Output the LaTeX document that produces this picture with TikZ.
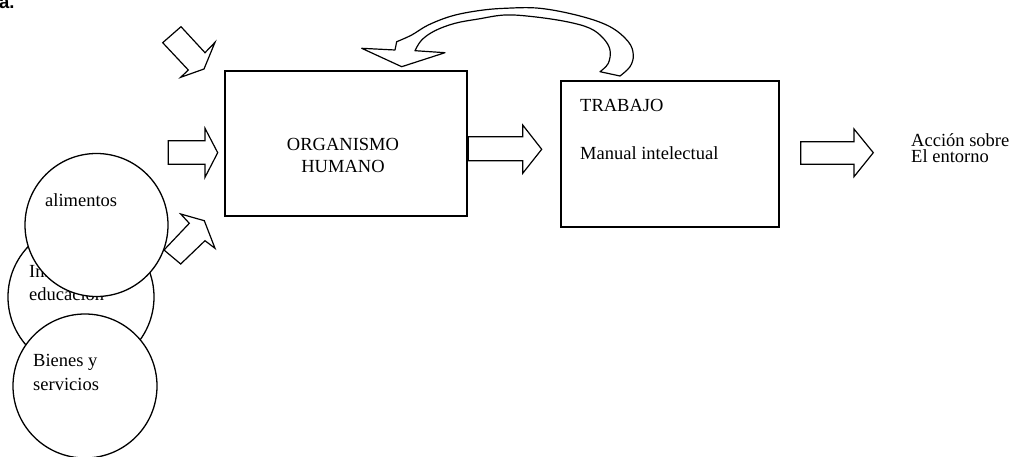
\documentclass[tikz,border=0pt]{standalone}
\usepackage{fontspec}
\setmainfont{Liberation Serif}
\newfontfamily\labelsans{Liberation Sans}
\begin{document}
\begin{tikzpicture}[x=1pt,y=-1pt,
  box/.style={draw, line width=1.6pt, fill=white, inner sep=0pt, outer sep=0pt},
  blob/.style={draw, circle, line width=1.3pt, fill=white, inner sep=0pt, outer sep=0pt},
  blockarrow/.style={draw, line width=1.2pt, fill=white, line join=miter},
  txt/.style={anchor=base west, inner sep=0pt, font=\fontsize{18.5}{22}\selectfont},
  ctxt/.style={txt, anchor=base},
]
\useasboundingbox (0,0) rectangle (1016,457);
\clip (0,0) rectangle (1016,457);

% heading fragment
\node[anchor=base west, inner sep=0pt, font=\labelsans\bfseries\fontsize{18.5}{22}\selectfont] (head) at (-1,8.3) {a.};

% main boxes
\node[box, minimum width=242pt, minimum height=145pt] (org) at (346,143.5) {};
\node[box, minimum width=218pt, minimum height=146pt] (trab) at (670,154) {};

% box texts
\node[ctxt] (orgA) at (343,150) {ORGANISMO};
\node[ctxt] (orgB) at (343,172.7) {HUMANO};
\node[txt] (trabA) at (580,111.7) {TRABAJO};
\node[txt] (trabB) at (580,159.3) {Manual intelectual};
\node[txt] (accA) at (911,146.5) {Acción sobre};
\node[txt] (accB) at (911,163) {El entorno};

% input arrows
\draw[blockarrow] (162.7,42.7) -- (181,26.7) -- (205,52.7) -- (215,42.3) -- (204,69)
  -- (180.7,77.3) -- (188.3,70) -- cycle;
\draw[blockarrow] (168.3,140.7) -- (205,140.7) -- (205,128.3) -- (217.7,152.7)
  -- (205,177.3) -- (205,164.3) -- (168.3,164.3) -- cycle;
\draw[blockarrow] (164,250) -- (189.3,223.3) -- (180.7,214) -- (204.3,220.7)
  -- (215,248.3) -- (205,240.7) -- (180.7,264) -- cycle;

% organismo -> trabajo
\draw[blockarrow] (468.3,136.7) -- (522.7,136.7) -- (522.7,125) -- (541.7,149.3)
  -- (522.7,173.3) -- (522.7,160.7) -- (468.3,160.7) -- cycle;
% trabajo -> entorno
\draw[blockarrow] (800.7,141.7) -- (854,141.7) -- (854,129) -- (873.3,152.7)
  -- (854,176.7) -- (854,164.3) -- (800.7,164.3) -- cycle;

% feedback arrow from trabajo back to organismo
\draw[blockarrow, line join=round]
  plot[smooth, tension=0.6] coordinates {(600,71.7) (608.3,63.3) (610,50) (603.3,38.3)
    (590,28.3) (566.7,21.7) (533.3,16.7) (505,15) (478.3,19) (455,23.3) (435,30.7)
    (421.7,40) (415,50.7)}
  -- (445,52.7) -- (401.7,66.7) -- (361.7,48.3) -- (395,50)
  -- plot[smooth, tension=0.6] coordinates {(396.7,41.7) (411.7,35) (428.3,25)
    (451.7,16) (478.3,10.7) (505,8.3) (540,8.3) (580,16) (610,26.7) (628.3,41.7)
    (633.3,55) (630,66.7) (620,76)}
  -- cycle;

% input circles
\node[blob, minimum size=146pt] (info) at (81,297) {};
\node[txt] (infoA) at (29,277) {Información};
\node[txt] (infoB) at (29,300) {educación};
\node[blob, minimum size=144pt] (bienes) at (85,386) {};
\node[txt] (bienesA) at (33,366.7) {Bienes y};
\node[txt] (bienesB) at (33,390) {servicios};
\node[blob, minimum size=143pt] (alim) at (96.5,225) {};
\node[txt] (alimA) at (45,206) {alimentos};
\end{tikzpicture}
\end{document}
